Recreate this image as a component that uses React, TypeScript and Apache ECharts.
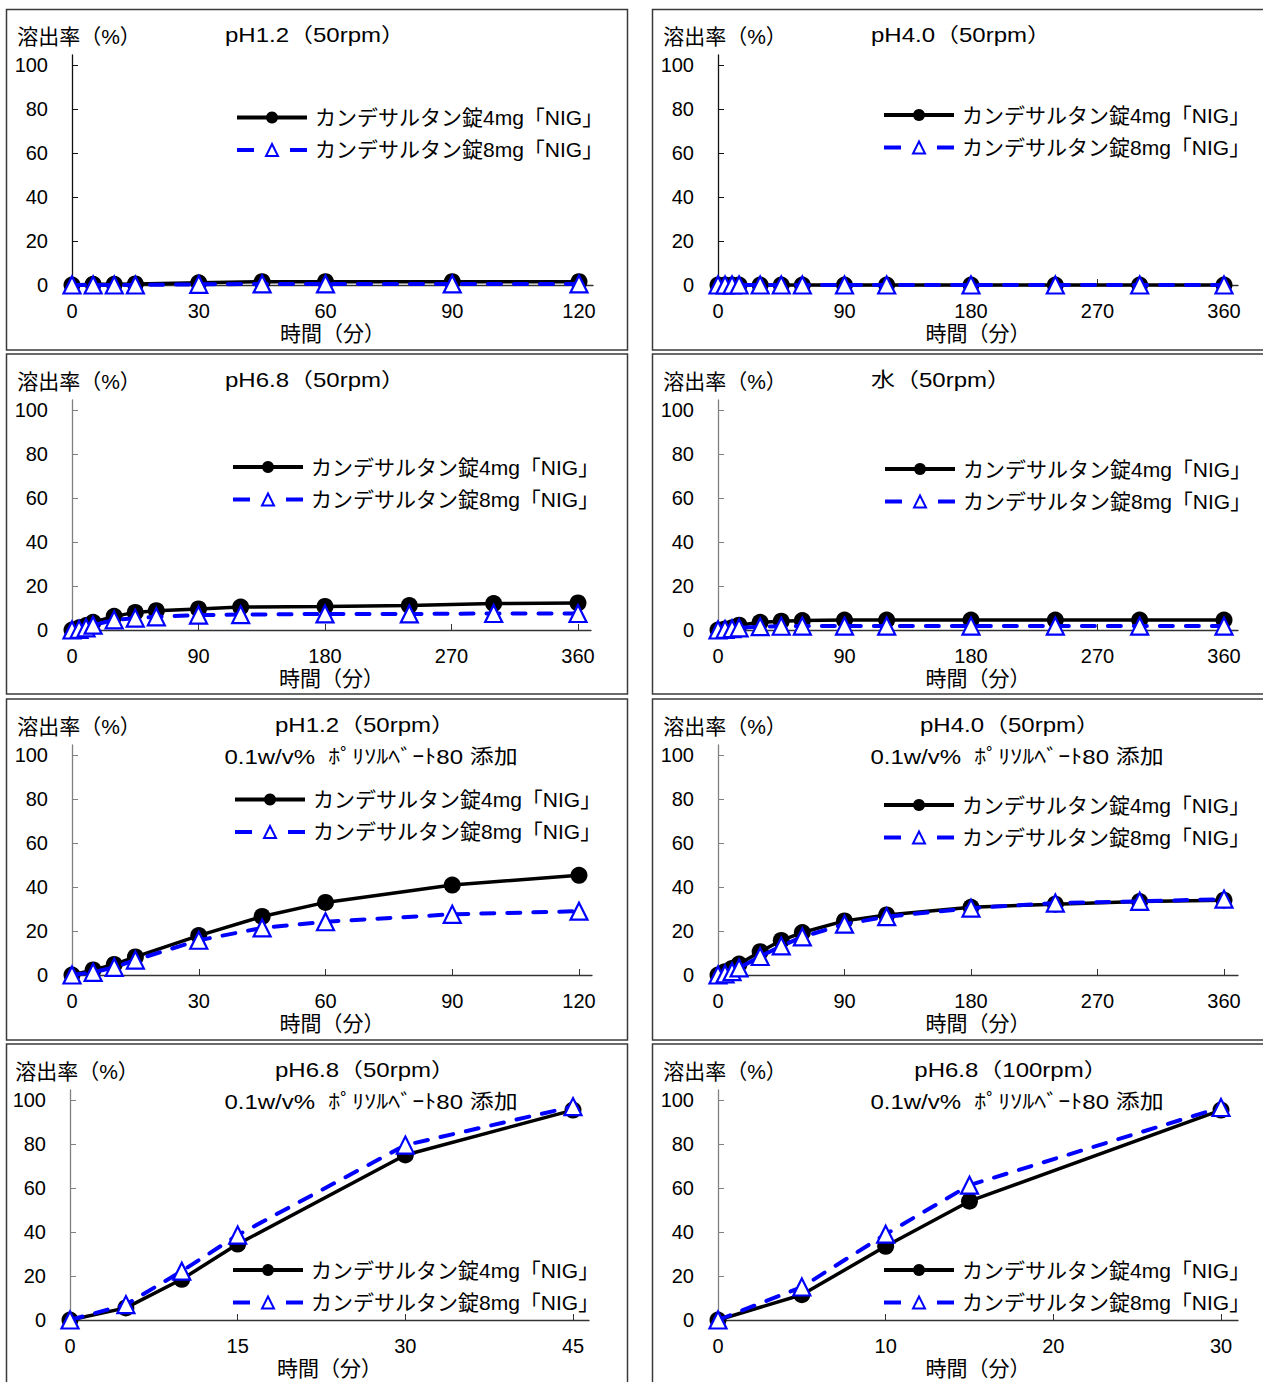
import React, { useEffect, useRef } from "react";
import * as echarts from "echarts";

const NAME_4MG = "カンデサルタン錠4mg「NIG」";
const NAME_8MG = "カンデサルタン錠8mg「NIG」";
const Y_NAME = "溶出率（%）";
const X_NAME = "時間（分）";
const SUBTITLE = "0.1w/v%  ﾎﾟﾘｿﾙﾍﾞｰﾄ80 添加";

const TIMES_120 = [0, 5, 10, 15, 30, 45, 60, 90, 120];
const TIMES_360 = [0, 5, 10, 15, 30, 45, 60, 90, 120, 180, 240, 300, 360];
const TIMES_45 = [0, 5, 10, 15, 30, 45];
const TIMES_30 = [0, 5, 10, 15, 30];

const Y_TICKS = [0, 20, 40, 60, 80, 100];
const X_TICKS_120 = [0, 30, 60, 90, 120];
const X_TICKS_360 = [0, 90, 180, 270, 360];
const X_TICKS_45 = [0, 15, 30, 45];
const X_TICKS_30 = [0, 10, 20, 30];

// pH1.2 (50rpm)
const P1_4MG = [0, 0.3, 0.3, 0.5, 1.0, 1.5, 1.5, 1.5, 1.5];
const P1_8MG = [0, 0, 0, 0, 0.3, 0.5, 0.5, 0.5, 0.5];
// pH4.0 (50rpm)
const P2_4MG = [0, 0, 0, 0, 0, 0, 0, 0, 0, 0, 0, 0, 0];
const P2_8MG = [0, 0, 0, 0, 0, 0, 0, 0, 0, 0, 0, 0, 0];
// pH6.8 (50rpm)
const P3_4MG = [0, 1, 2, 3.5, 6.2, 8, 8.8, 9.6, 10.4, 10.7, 11.1, 12, 12.3];
const P3_8MG = [0, 0.3, 1, 2.2, 4.6, 5.4, 6, 6.8, 7, 7.3, 7.3, 7.5, 7.5];
// 水 (50rpm)
const P4_4MG = [0, 0.5, 1, 2.2, 3.5, 4, 4.3, 4.5, 4.5, 4.5, 4.5, 4.5, 4.5];
const P4_8MG = [0, 0.3, 0.6, 1, 1.5, 1.7, 1.8, 1.8, 1.8, 1.8, 1.8, 1.8, 1.8];
// pH1.2 (50rpm) + PS80
const P5_4MG = [0, 2.3, 4.8, 8.2, 17.9, 26.6, 33, 40.9, 45.3];
const P5_8MG = [0, 1.2, 3.5, 6.8, 15.8, 21.4, 24.2, 27.6, 29];
// pH4.0 (50rpm) + PS80
const P6_4MG = [0, 1.5, 3, 5, 10.6, 15.7, 19.3, 24.6, 27.3, 30.8, 32.2, 33.4, 34];
const P6_8MG = [0, 0.5, 1.5, 3.2, 8.4, 13.2, 17.3, 23.1, 26.5, 30.4, 32.7, 33.5, 34.5];
// pH6.8 (50rpm) + PS80
const P7_4MG = [0, 5.5, 18.5, 34.5, 75, 95.4];
const P7_8MG = [0, 7, 22.2, 38.6, 79.5, 97];
// pH6.8 (100rpm) + PS80
const P8_4MG = [0, 11.5, 33.5, 54, 95.4];
const P8_8MG = [0, 15, 39, 61.3, 96.6];

const FONT = '"Liberation Sans", "Noto Sans CJK JP", sans-serif';

type Panel = {
  times: number[];
  d4: number[];
  d8: number[];
  xTicks: number[];
  titles: { text: string; x: number; y: number; align: string }[];
  x0: number;
  xMaxPx: number;
  axisEnd: number;
  y0: number;
  y100: number;
  legendLeft: number;
  legendRow1: number;
  yAxisColor: string;
  box: [number, number, number, number];
};

const PANELS: Panel[] = [
  {
    times: TIMES_120, d4: P1_4MG, d8: P1_8MG, xTicks: X_TICKS_120,
    titles: [{ text: "pH1.2（50rpm）", x: 225, y: 35, align: "left" }],
    x0: 72, xMaxPx: 579, axisEnd: 593, y0: 285, y100: 65,
    legendLeft: 235, legendRow1: 117.5, yAxisColor: "#111", box: [6.5, 9.5, 621, 340.5],
  },
  {
    times: TIMES_360, d4: P2_4MG, d8: P2_8MG, xTicks: X_TICKS_360,
    titles: [{ text: "pH4.0（50rpm）", x: 871, y: 35, align: "left" }],
    x0: 718, xMaxPx: 1224, axisEnd: 1238, y0: 285, y100: 65,
    legendLeft: 882, legendRow1: 115, yAxisColor: "#111", box: [652.5, 9.5, 640, 340.5],
  },
  {
    times: TIMES_360, d4: P3_4MG, d8: P3_8MG, xTicks: X_TICKS_360,
    titles: [{ text: "pH6.8（50rpm）", x: 225, y: 380, align: "left" }],
    x0: 72, xMaxPx: 578, axisEnd: 591, y0: 630, y100: 410,
    legendLeft: 231, legendRow1: 467, yAxisColor: "#808080", box: [6.5, 354, 621, 340],
  },
  {
    times: TIMES_360, d4: P4_4MG, d8: P4_8MG, xTicks: X_TICKS_360,
    titles: [{ text: "水（50rpm）", x: 871, y: 380, align: "left" }],
    x0: 718, xMaxPx: 1224, axisEnd: 1238, y0: 630, y100: 410,
    legendLeft: 883, legendRow1: 469, yAxisColor: "#808080", box: [652.5, 354, 640, 340],
  },
  {
    times: TIMES_120, d4: P5_4MG, d8: P5_8MG, xTicks: X_TICKS_120,
    titles: [
      { text: "pH1.2（50rpm）", x: 365, y: 725, align: "center" },
      { text: SUBTITLE, x: 371, y: 757, align: "center" },
    ],
    x0: 72, xMaxPx: 579, axisEnd: 592, y0: 975, y100: 755,
    legendLeft: 233, legendRow1: 799.5, yAxisColor: "#808080", box: [6.5, 699, 621, 341],
  },
  {
    times: TIMES_360, d4: P6_4MG, d8: P6_8MG, xTicks: X_TICKS_360,
    titles: [
      { text: "pH4.0（50rpm）", x: 1010, y: 725, align: "center" },
      { text: SUBTITLE, x: 1017, y: 757, align: "center" },
    ],
    x0: 718, xMaxPx: 1224, axisEnd: 1238, y0: 975, y100: 755,
    legendLeft: 882, legendRow1: 805, yAxisColor: "#808080", box: [652.5, 699, 640, 341],
  },
  {
    times: TIMES_45, d4: P7_4MG, d8: P7_8MG, xTicks: X_TICKS_45,
    titles: [
      { text: "pH6.8（50rpm）", x: 365, y: 1070, align: "center" },
      { text: SUBTITLE, x: 371, y: 1102, align: "center" },
    ],
    x0: 70, xMaxPx: 573, axisEnd: 589, y0: 1320, y100: 1100,
    legendLeft: 231, legendRow1: 1270, yAxisColor: "#808080", box: [6.5, 1044, 621, 400],
  },
  {
    times: TIMES_30, d4: P8_4MG, d8: P8_8MG, xTicks: X_TICKS_30,
    titles: [
      { text: "pH6.8（100rpm）", x: 1011, y: 1070, align: "center" },
      { text: SUBTITLE, x: 1017, y: 1102, align: "center" },
    ],
    x0: 718, xMaxPx: 1221, axisEnd: 1238, y0: 1320, y100: 1100,
    legendLeft: 882, legendRow1: 1270, yAxisColor: "#808080", box: [652.5, 1044, 640, 400],
  },
];

function buildOption() {
  const grid: any[] = [];
  const xAxis: any[] = [];
  const yAxis: any[] = [];
  const series: any[] = [];
  const legend: any[] = [];
  const graphic: any[] = [];

  PANELS.forEach((p, i) => {
    const top = p.y100 - 10;
    const height = p.y0 - top;
    const width = p.axisEnd - p.x0;
    const tickMax = p.xTicks[p.xTicks.length - 1];
    const xMax = (tickMax * width) / (p.xMaxPx - p.x0);
    const yMax = (100 * height) / (p.y0 - p.y100);

    grid.push({ left: p.x0, top, width, height, containLabel: false });

    xAxis.push({
      type: "value",
      gridIndex: i,
      min: 0,
      max: xMax,
      splitLine: { show: false },
      axisLine: { show: true, lineStyle: { color: "#333", width: 1.3 } },
      axisTick: { show: true, inside: true, length: 6, customValues: p.xTicks, lineStyle: { color: "#333" } },
      axisLabel: {
        customValues: p.xTicks,
        margin: 16,
        fontSize: 20,
        fontFamily: FONT,
        color: "#000",
      },
      name: X_NAME,
      nameLocation: "middle",
      nameGap: 38,
      nameTextStyle: { fontSize: 21, fontFamily: FONT, color: "#000" },
    });

    yAxis.push({
      type: "value",
      gridIndex: i,
      min: 0,
      max: yMax,
      splitLine: { show: false },
      axisLine: { show: true, lineStyle: { color: p.yAxisColor, width: 1.3 } },
      axisTick: { show: true, inside: true, length: 6, customValues: Y_TICKS, lineStyle: { color: p.yAxisColor } },
      axisLabel: {
        customValues: Y_TICKS,
        margin: 24,
        fontSize: 20,
        fontFamily: FONT,
        color: "#000",
      },
      name: Y_NAME,
      nameLocation: "end",
      nameGap: 8,
      nameTextStyle: { fontSize: 21, fontFamily: FONT, color: "#000", padding: [0, 0, 0, 14] },
    });

    series.push({
      type: "line",
      name: NAME_4MG,
      xAxisIndex: i,
      yAxisIndex: i,
      data: p.times.map((t, k) => [t, p.d4[k]]),
      symbol: "circle",
      symbolSize: 17,
      clip: false,
      itemStyle: { color: "#000" },
      lineStyle: { color: "#000", width: 3.5 },
      z: 2,
    });
    series.push({
      type: "line",
      name: NAME_8MG,
      xAxisIndex: i,
      yAxisIndex: i,
      data: p.times.map((t, k) => [t, p.d8[k]]),
      symbol: "triangle",
      symbolSize: 17,
      clip: false,
      itemStyle: { color: "#ffffff", borderColor: "#0000ff", borderWidth: 2.2 },
      lineStyle: { color: "#0000ff", width: 4, type: [13, 13], cap: "round" },
      z: 3,
    });

    legend.push({
      orient: "vertical",
      left: p.legendLeft,
      top: p.legendRow1 - 10.5,
      itemWidth: 70,
      itemHeight: 15,
      itemGap: 11.5,
      padding: 0,
      selectedMode: false,
      lineStyle: { width: 4 },
      textStyle: { fontSize: 21, fontFamily: FONT, color: "#000", padding: [0, 0, 0, 3] },
      data: [
        { name: NAME_4MG },
        { name: NAME_8MG, lineStyle: { type: [17, 36], width: 4, cap: "butt" } },
      ],
    });

    graphic.push({
      type: "rect",
      silent: true,
      shape: { x: p.box[0], y: p.box[1], width: p.box[2], height: p.box[3] },
      style: { fill: "none", stroke: "#3a3a3a", lineWidth: 1.5 },
      z: 0,
    });
    p.titles.forEach((t) => {
      graphic.push({
        type: "text",
        silent: true,
        x: t.x,
        y: t.y,
        scaleX: 1.2,
        style: {
          text: t.text,
          fontSize: 20,
          fontFamily: FONT,
          fill: "#000",
          align: t.align,
          verticalAlign: "middle",
        },
        z: 10,
      });
    });
  });

  return {
    animation: false,
    backgroundColor: "#ffffff",
    grid,
    xAxis,
    yAxis,
    series,
    legend,
    graphic,
  };
}

export default function App() {
  const ref = useRef<HTMLDivElement>(null);
  useEffect(() => {
    if (!ref.current) return;
    const chart = echarts.init(ref.current, null, { renderer: "svg" });
    chart.setOption(buildOption() as any);
    return () => chart.dispose();
  }, []);
  return (
    <div
      ref={ref}
      style={{ position: "absolute", left: 0, top: 0, width: 1263, height: 1382 }}
    />
  );
}
